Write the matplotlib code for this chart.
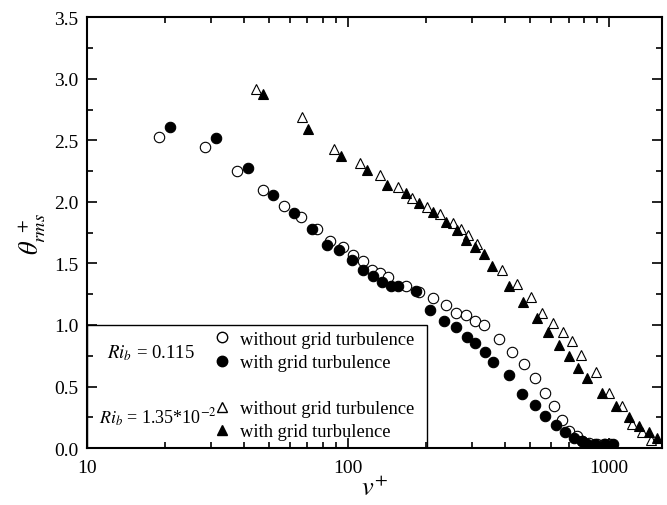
import matplotlib
matplotlib.use('Agg')
import matplotlib.pyplot as plt
from matplotlib.lines import Line2D
from matplotlib.patches import Rectangle
from matplotlib.ticker import LogLocator, NullFormatter
import numpy as np

plt.rcParams['font.family'] = 'Liberation Serif'
plt.rcParams['mathtext.fontset'] = 'stix'

# Ri_b = 0.115, without grid turbulence (open circles)
x_oc = [18.9, 28.3, 37.7, 47.2, 56.7, 66.1, 75.9, 85.1, 95.4, 104.2, 113.8, 123.3,
        132.6, 142.7, 166.8, 187.6, 212.2, 236.8, 259.3, 283.3, 306.6, 332, 378.8,
        424, 472.2, 520.6, 568.6, 615.7, 662.4, 704.5, 752, 790, 840, 900, 960, 1010]
y_oc = [2.53, 2.45, 2.25, 2.10, 1.97, 1.88, 1.78, 1.68, 1.63, 1.57, 1.52, 1.45,
        1.42, 1.39, 1.32, 1.27, 1.22, 1.16, 1.10, 1.08, 1.03, 1.00, 0.89,
        0.78, 0.68, 0.57, 0.45, 0.34, 0.23, 0.14, 0.10, 0.06, 0.04, 0.03, 0.03, 0.03]

# Ri_b = 0.115, with grid turbulence (filled circles)
x_fc = [20.8, 31.2, 41.5, 51.9, 62.3, 72.6, 83.1, 92.4, 103.3, 113.8, 124.3, 134.6,
        145.7, 155.9, 182.2, 206, 233.3, 259.3, 284.7, 306.6, 335, 360.4, 414,
        465.4, 520.6, 571, 625, 678, 736.6, 786, 821.6, 884, 966, 1039]
y_fc = [2.61, 2.52, 2.28, 2.06, 1.91, 1.78, 1.65, 1.61, 1.53, 1.45, 1.40, 1.35,
        1.32, 1.32, 1.28, 1.12, 1.03, 0.98, 0.90, 0.85, 0.78, 0.70, 0.59,
        0.44, 0.35, 0.26, 0.19, 0.13, 0.08, 0.06, 0.03, 0.03, 0.03, 0.03]

# Ri_b = 1.35e-2, without grid turbulence (open triangles)
x_ot = [44.3, 66.6, 88.6, 111.2, 132.6, 155.9, 175.4, 200.3, 225.1, 252, 270, 289,
        311, 388, 445.5, 501, 555, 608.5, 668, 723, 779, 889, 1000, 1119, 1228,
        1335, 1448]
y_ot = [2.92, 2.69, 2.43, 2.32, 2.22, 2.12, 2.03, 1.96, 1.90, 1.83, 1.78, 1.73,
        1.66, 1.45, 1.33, 1.23, 1.10, 1.02, 0.94, 0.87, 0.76, 0.62, 0.45, 0.34, 0.195,
        0.13, 0.065]

# Ri_b = 1.35e-2, with grid turbulence (filled triangles)
x_ft = [47.2, 70.4, 94, 117.9, 141.4, 166.4, 187.6, 212.2, 236.8, 261, 282.5, 306.6,
        332, 355.4, 414, 469.6, 531, 585.6, 641.6, 701, 762.6, 826, 942, 1061, 1193,
        1306, 1423, 1531]
y_ft = [2.88, 2.59, 2.37, 2.26, 2.14, 2.07, 1.99, 1.92, 1.84, 1.77, 1.69, 1.63,
        1.58, 1.48, 1.32, 1.19, 1.055, 0.94, 0.84, 0.75, 0.65, 0.57, 0.45, 0.34, 0.25,
        0.18, 0.13, 0.08]

labels = ['without grid turbulence', 'with grid turbulence']

fig = plt.figure(figsize=(6.67, 5.06), dpi=100)
ax = fig.add_axes([0.130, 0.1126, 0.863, 0.851])

ms = 7.5
ax.plot(x_oc, y_oc, 'o', ms=ms, mfc='white', mec='black', mew=0.8, ls='none')
ax.plot(x_fc, y_fc, 'o', ms=ms, mfc='black', mec='black', mew=0.8, ls='none')
ax.plot(x_ot, y_ot, '^', ms=ms, mfc='white', mec='black', mew=0.8, ls='none')
ax.plot(x_ft, y_ft, '^', ms=ms, mfc='black', mec='black', mew=0.8, ls='none')

ax.set_xscale('log')
ax.set_xlim(10, 1600)
ax.set_ylim(0, 3.5)
ax.set_xticks([10, 100, 1000], ['10', '100', '1000'])
ax.xaxis.set_minor_locator(LogLocator(base=10, subs=np.arange(2, 10)))
ax.xaxis.set_minor_formatter(NullFormatter())
ax.set_yticks(np.arange(0, 3.51, 0.5), ['%.1f' % v for v in np.arange(0, 3.51, 0.5)])
ax.set_yticks(np.arange(0.25, 3.5, 0.5), minor=True)
ax.tick_params(which='both', direction='in', top=True, right=True, labelsize=14, width=1.2)
ax.tick_params(which='major', length=7)
ax.tick_params(which='minor', length=4)
ax.tick_params(axis='x', which='major', pad=8)
ax.tick_params(axis='y', which='major', pad=6)
for s in ax.spines.values():
    s.set_linewidth(1.5)

ax.set_xlabel(r'$v^{+}$', fontsize=19, labelpad=0)
ax.set_ylabel(r'$\theta_{rms}^{\ +}$', fontsize=19, labelpad=4)

# legend box
ax.add_patch(Rectangle((0, 0), 0.591, 1.0 / 3.5, transform=ax.transAxes,
                       fill=False, ec='black', lw=1.0, zorder=3))
ax.text(0.035, 0.78 / 3.5, r'$Ri_b$ = 0.115', transform=ax.transAxes,
        fontsize=13.5, va='center', ha='left')
ax.text(0.022, 0.25 / 3.5, r'$Ri_b$ = 1.35*10$^{-2}$', transform=ax.transAxes,
        fontsize=13, va='center', ha='left')

handles = [
    Line2D([], [], marker='o', ms=ms, mfc='white', mec='black', ls='none'),
    Line2D([], [], marker='o', ms=ms, mfc='black', mec='black', ls='none'),
    Line2D([], [], ls='none'),
    Line2D([], [], marker='^', ms=ms, mfc='white', mec='black', ls='none'),
    Line2D([], [], marker='^', ms=ms, mfc='black', mec='black', ls='none'),
]
leg = ax.legend(handles, [labels[0], labels[1], '', labels[0], labels[1]],
                loc='upper left', bbox_to_anchor=(0.219, 0.272), frameon=False,
                handlelength=1.0, handletextpad=0.5, labelspacing=0.33,
                borderpad=0, borderaxespad=0, fontsize=13.3)

fig.savefig('out.png', dpi=100)
